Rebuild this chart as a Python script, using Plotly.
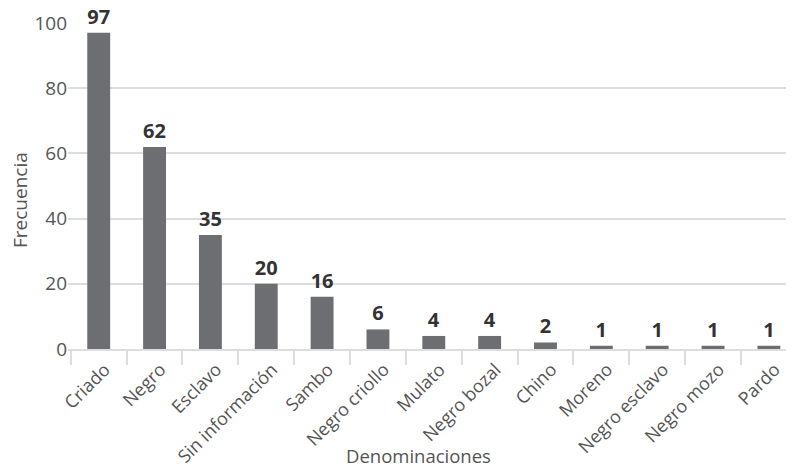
import plotly.graph_objects as go

categories = ["Criado", "Negro", "Esclavo", "Sin información", "Sambo", "Negro criollo",
              "Mulato", "Negro bozal", "Chino", "Moreno", "Negro esclavo", "Negro mozo", "Pardo"]
values = [97, 62, 35, 20, 16, 6, 4, 4, 2, 1, 1, 1, 1]
y_ticks = [0, 20, 40, 60, 80, 100]

FONT = "Open Sans"
GRAY = "#555555"

fig = go.Figure(go.Bar(
    x=categories, y=values,
    marker=dict(color="#6d6e71", line=dict(width=0)),
    text=[str(v) for v in values],
    textposition="outside",
    textfont=dict(family=FONT, size=20, color="#333333", weight="bold"),
    cliponaxis=False,
))

fig.update_layout(
    width=786, height=461,
    margin=dict(l=60, r=0, t=15, b=120, autoexpand=False),
    paper_bgcolor="white", plot_bgcolor="white",
    bargap=0.59,
    showlegend=False,
    font=dict(family=FONT, color=GRAY),
    uniformtext=dict(minsize=8, mode="show"),
    annotations=[
        dict(text="Frecuencia", xref="paper", yref="paper", x=0, y=0.457,
             xshift=-48, textangle=-90, showarrow=False,
             xanchor="center", yanchor="middle",
             font=dict(family=FONT, size=19, color=GRAY)),
        dict(text="Denominaciones", xref="paper", yref="paper", x=0.483, y=0,
             yshift=-106, showarrow=False, xanchor="center", yanchor="middle",
             font=dict(family=FONT, size=18.5, color=GRAY)),
    ],
)
fig.update_xaxes(
    automargin=False,
    range=[-0.55, 12.45],
    tickangle=-45,
    tickfont=dict(family=FONT, size=18, color=GRAY),
    ticklabelshift=6, ticklabelstandoff=1,
    ticks="outside", tickson="boundaries", ticklen=14, tickcolor="#dddddd", tickwidth=2,
    showline=True, linecolor="#dddddd", linewidth=2,
    showgrid=False,
)
fig.update_yaxes(
    automargin=False,
    range=[0, 100], tickvals=y_ticks,
    tickfont=dict(family=FONT, size=19, color=GRAY),
    showgrid=True, gridcolor="#dddddd", gridwidth=2,
    zeroline=False, ticks="", ticklen=0,
)

fig.write_html("out.html")
